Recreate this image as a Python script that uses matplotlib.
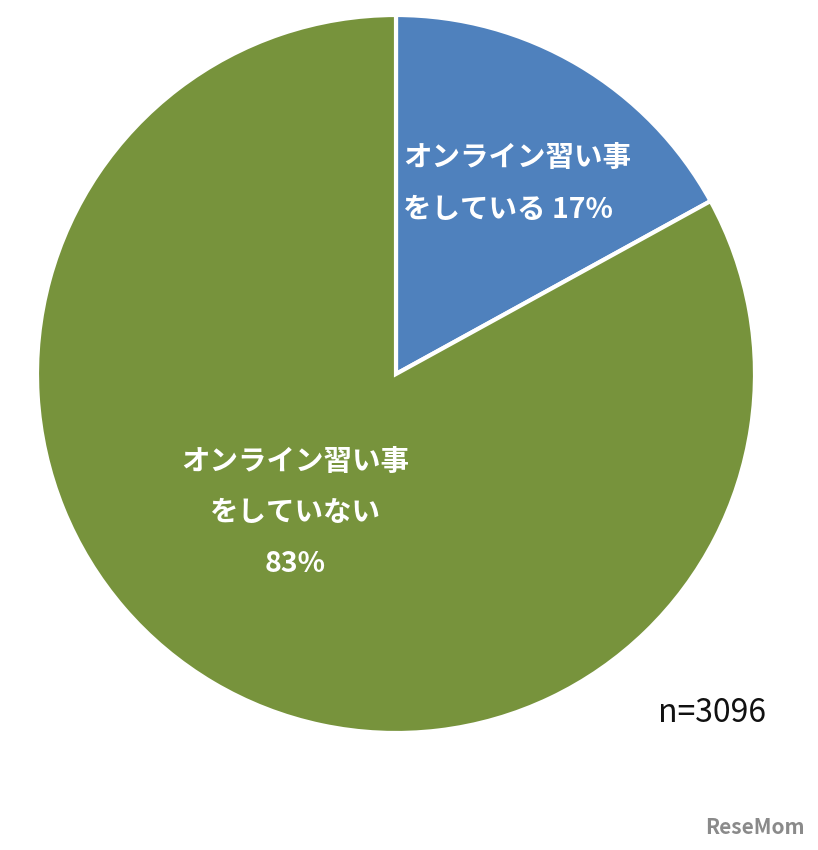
import matplotlib.pyplot as plt

# data
labels = ['オンライン習い事\nをしている 17%', 'オンライン習い事\nをしていない\n83%']
values = [17, 83]
colors = ['#4F81BD', '#77933C']
n_text = 'n=3096'

plt.rcParams['font.family'] = ['Noto Sans CJK JP', 'DejaVu Sans']

W, H = 818, 850
fig = plt.figure(figsize=(W / 100, H / 100), dpi=100)
ax = fig.add_axes([0, 0, 1, 1])

#pie in pixel coordinates (y flipped so angles stay normal)
cx, cy, r = 396, H - 374, 359
wedges, _ = ax.pie(values, colors=colors, startangle=90, counterclock=False,
                   center=(cx, cy), radius=r, frame=True,
                   wedgeprops=dict(edgecolor='white', linewidth=3))
ax.set_xlim(0, W)
ax.set_ylim(0, H)
ax.set_aspect('equal')
ax.axis('off')

#slice labels
ax.text(403, H - 184, labels[0], color='white', fontsize=20.5, fontweight='bold',
        ha='left', va='center', linespacing=2.05)
ax.text(295, H - 513, labels[1], color='white', fontsize=20.5, fontweight='bold',
        ha='center', va='center', linespacing=2.05)

ax.text(712, H - 713, n_text, fontsize=23, ha='center', va='center', color='#111111')
ax.text(755, H - 828, 'ReseMom', fontsize=15, fontweight='bold', ha='center',
        va='center', color='#8a8a8a')

fig.savefig('out.png', dpi=100)
